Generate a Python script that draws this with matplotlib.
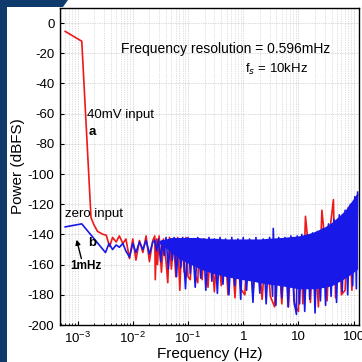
import numpy as np
import matplotlib
matplotlib.use("Agg")
import matplotlib.pyplot as plt
from matplotlib.patches import Polygon

plt.rcParams['font.family'] = ['Liberation Sans', 'DejaVu Sans']
plt.rcParams['mathtext.fontset'] = 'custom'
plt.rcParams['mathtext.rm'] = 'Liberation Sans'
plt.rcParams['axes.unicode_minus'] = False

# low-frequency part, read point by point (Hz, dBFS)
red_f = [5.96e-4, 1.19e-3, 1.75e-3, 2.0e-3, 2.3e-3, 2.9e-3, 3.3e-3, 3.8e-3, 4.3e-3,
         5.0e-3, 5.7e-3, 6.6e-3, 7.5e-3, 8.7e-3, 1.0e-2, 1.14e-2, 1.32e-2, 1.52e-2,
         1.74e-2, 2.0e-2, 2.3e-2]
red_p = [-5.5, -12, -129, -134, -138, -140, -140.5, -148, -142,
         -145, -141, -146, -143, -156, -143, -157, -144, -152,
         -141, -158, -144]

blue_f = [5.96e-4, 1.19e-3, 3.2e-3, 3.7e-3, 4.3e-3, 5.0e-3, 5.7e-3, 6.6e-3, 7.5e-3,
          8.7e-3, 1.0e-2, 1.14e-2, 1.32e-2, 1.52e-2, 1.74e-2, 2.0e-2, 2.3e-2]
blue_p = [-135, -133, -152, -146, -150, -147, -148.5, -146, -151,
          -155, -146, -152, -145, -150, -144, -153, -145]

# dense part: spike tips, alternating up / down
red_noise_f = [0.025, 0.0255, 0.027, 0.028, 0.03, 0.033, 0.036, 0.04, 0.043, 0.046,
               0.05, 0.055, 0.06, 0.065, 0.071, 0.077, 0.085, 0.092, 0.1, 0.11,
               0.12, 0.135, 0.15, 0.16, 0.18, 0.2, 0.23, 0.26, 0.3, 0.34,
               0.4, 0.46, 0.53, 0.6, 0.71, 0.8, 0.9, 1.07, 1.2, 1.5,
               1.8, 2.2, 2.6, 3.1, 3.7, 4.2, 5.0, 5.8, 6.6, 7.5,
               8.5, 10, 11, 12, 13.4, 14.5, 16.5, 19, 23, 26.6,
               29, 33, 38, 43, 47, 53, 60, 70, 80, 93, 105, 118]
red_noise_p = [-141, -170, -143, -160, -141, -165, -143, -158, -172, -142,
               -163, -143, -168, -142, -177, -143, -165, -142, -168, -170,
               -143, -167, -172, -143, -170, -143, -175, -144, -178, -144,
               -174, -144, -180, -144, -182, -144, -176, -180, -144, -179,
               -144, -183, -144, -181, -188, -144, -186, -143, -188, -143,
               -187, -191, -142, -186, -128, -141, -185, -140, -188, -124,
               -138, -184, -134, -117, -182, -130, -180, -177, -122, -177, -117, -114]

blue_noise_f = [0.025, 0.027, 0.029, 0.032, 0.034, 0.037, 0.04, 0.044, 0.048, 0.052,
                0.056, 0.062, 0.067, 0.074, 0.08, 0.09, 0.1, 0.11, 0.12, 0.135,
                0.15, 0.17, 0.19, 0.21, 0.24, 0.27, 0.3, 0.34, 0.38, 0.43,
                0.48, 0.55, 0.62, 0.7, 0.8, 0.9, 1.0, 1.15, 1.3, 1.5,
                1.7, 2.0, 2.3, 2.6, 3.0, 3.4, 3.5, 3.9, 4.4, 5.0,
                5.7, 6.5, 7.3, 8.3, 9.2, 9.5, 10.5, 11.5, 13, 14.5,
                16, 18, 20, 22, 25, 28, 31, 35, 39, 44,
                49, 55, 62, 70, 78, 87, 96, 105, 112, 118]
blue_noise_p = [-144, -151, -143, -158, -144, -154, -142, -163, -143, -157,
                -142, -168, -143, -162, -142, -176, -142, -166, -143, -175,
                -142, -169, -143, -177, -142, -171, -143, -179, -142, -173,
                -143, -180, -142, -174, -143, -183, -142, -177, -143, -185,
                -142, -179, -143, -186, -142, -181, -136, -187, -142, -182,
                -142, -188, -141, -184, -193, -141, -186, -140, -191, -140,
                -183, -139, -192, -138, -184, -136, -187, -133, -181, -130,
                -185, -127, -178, -124, -180, -120, -174, -115, -176, -112]

# solid body of the blue trace
body_f = [0.03, 0.04, 0.05, 0.07, 0.1, 0.15, 0.2, 0.3, 0.5, 0.7, 1, 1.5, 2, 3, 5, 7,
          10, 15, 20, 30, 40, 50, 70, 100, 118]
body_top = [-144, -143, -142, -142, -142, -142, -142.5, -142.5, -143, -143, -143, -143,
            -143, -142.5, -142, -141.5, -141, -139.5, -138, -135, -132, -129,
            -124, -116, -112]
body_low = [-146, -149, -152, -156, -159, -162, -164, -166, -168, -169, -170, -171,
            -172, -173, -174, -175, -176, -176, -176, -175, -174, -172, -169,
            -165, -163]

xticks = [1e-3, 1e-2, 1e-1, 1, 10, 100]
xtick_labels = ['$10^{-3}$', '$10^{-2}$', '$10^{-1}$', '1', '10', '100']
yticks = list(range(-200, 1, 20))

red = '#f01818'
blue = '#1818e8'

fig = plt.figure(figsize=(3.62, 3.62), dpi=100)
fig.patch.set_facecolor('white')
navy = '#0f3a6c'
fig.patches.append(Polygon([[0, 0], [7 / 362, 0], [7 / 362, 1], [0, 1]],
                           closed=True, transform=fig.transFigure,
                           facecolor=navy, edgecolor='none'))
fig.patches.append(Polygon([[0, 1], [68 / 362, 1], [63 / 362, 1 - 7 / 362], [0, 1 - 7 / 362]],
                           closed=True, transform=fig.transFigure,
                           facecolor=navy, edgecolor='none'))

ax = fig.add_axes([60 / 362, 37 / 362, 299 / 362, 317 / 362])
ax.set_xscale('log')
ax.set_xlim(4.8e-4, 125)
ax.set_ylim(-200, 10)

# red (40 mV input) underneath
ax.plot(red_f + red_noise_f, red_p + red_noise_p, color=red, lw=1.2, zorder=2)

# blue (zero input) on top
ax.fill_between(body_f, body_low, body_top, color=blue, lw=0, zorder=3)
ax.plot(blue_f + blue_noise_f, blue_p + blue_noise_p, color=blue, lw=1.2, zorder=3)

ax.set_xticks(xticks)
ax.set_xticklabels(xtick_labels)
ax.set_yticks(yticks)
ax.tick_params(axis='both', which='both', direction='in', labelsize=9.5, pad=4)
ax.tick_params(which='major', length=3)
ax.tick_params(which='minor', length=1.5)
ax.grid(True, which='major', axis='both', color='#b5b5b5', lw=0.5, linestyle=(0, (1, 1.5)))
ax.grid(True, which='minor', axis='x', color='#c4c4c4', lw=0.5, linestyle=(0, (1, 1.5)))
ax.set_axisbelow(True)
for s in ax.spines.values():
    s.set_linewidth(1.0)

ax.set_xlabel('Frequency (Hz)', fontsize=11, labelpad=1)
ax.set_ylabel('Power (dBFS)', fontsize=11, labelpad=2)

ax.text(0.49, -17, 'Frequency resolution = 0.596mHz', fontsize=10, ha='center', va='center')
ax.text(4.0, -31, 'f$_s$ = 10kHz', fontsize=9.5, ha='center', va='center')
ax.text(1.5e-3, -61, '40mV input', fontsize=9.5, ha='left', va='center')
ax.text(1.6e-3, -72, 'a', fontsize=9.5, fontweight='bold', ha='left', va='center')
ax.text(5.8e-4, -126.5, 'zero input', fontsize=9.5, ha='left', va='center')
ax.text(1.55e-3, -146, 'b', fontsize=9.5, fontweight='bold', ha='left', va='center')
ax.text(1.4e-3, -161, '1mHz', fontsize=8.5, fontweight='bold', ha='center', va='center')
ax.annotate('', xy=(9.6e-4, -143.5), xytext=(1.17e-3, -156),
            arrowprops=dict(arrowstyle='-|>', color='black', lw=1.0,
                            mutation_scale=7, shrinkA=0, shrinkB=0))

fig.savefig('out.png', dpi=100)
